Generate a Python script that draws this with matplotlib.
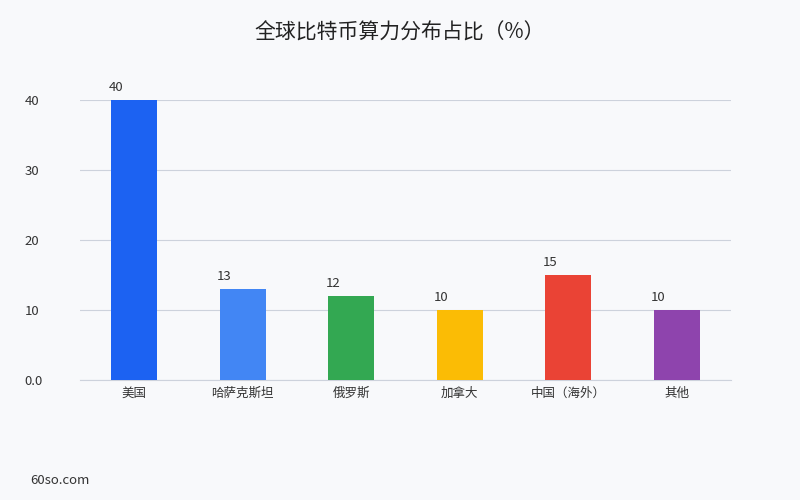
import matplotlib
matplotlib.use('Agg')
import matplotlib.pyplot as plt

plt.rcParams['font.family'] = ['Noto Sans CJK SC', 'DejaVu Sans']

regions = ['美国', '哈萨克斯坦', '俄罗斯', '加拿大', '中国（海外）', '其他']
share = [40, 13, 12, 10, 15, 10]
colors = ['#1c62f2', '#4286f4', '#33a852', '#fbbc05', '#ea4335', '#8e44ad']
yticks = [0, 10, 20, 30, 40]
ytick_labels = ['0.0', '10', '20', '30', '40']

bg = '#f8f9fb'
fig = plt.figure(figsize=(8, 5), dpi=100, facecolor=bg)
ax = fig.add_axes([0.1, 0.24, 0.81375, 0.56])
ax.set_facecolor(bg)

x = [i + 0.5 for i in range(len(regions))]
bars = ax.bar(x, share, width=0.42, color=colors, zorder=3)
for b, v in zip(bars, share):
    ax.text(b.get_x() + b.get_width() / 2 - 0.17, v + 0.9, str(v),
            ha='center', va='bottom', fontsize=9.5, color='#333333')

ax.set_xlim(0, len(regions))
ax.set_ylim(0, 40)
ax.set_xticks(x)
ax.set_xticklabels(regions, fontsize=9, color='#333333')
ax.set_yticks(yticks)
ax.set_yticklabels(ytick_labels, fontsize=9.5, color='#333333')
for lbl in ax.get_yticklabels():
    lbl.set_ha('left')
ax.tick_params(axis='y', length=0, pad=40)
ax.tick_params(axis='x', length=0, pad=5)
ax.grid(axis='y', color='#cdd2dc', linewidth=0.8, zorder=0)
for s in ax.spines.values():
    s.set_visible(False)
ax.axhline(0, color='#cdd2dc', linewidth=0.8, zorder=2, clip_on=False)

fig.text(0.5, 0.935, '全球比特币算力分布占比（%）', ha='center', va='center',
         fontsize=15, color='#222222')
fig.text(0.0375, 0.04, '60so.com', ha='left', va='center', fontsize=9.5, color='#333333')

fig.savefig('out.png', dpi=100, facecolor=bg)
